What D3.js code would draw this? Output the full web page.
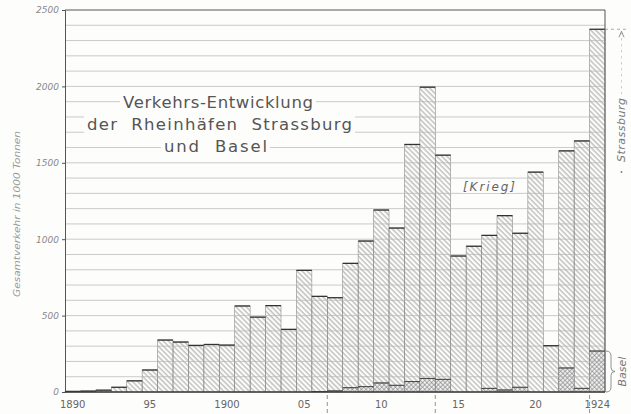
<!DOCTYPE html>
<html>
<head>
<meta charset="utf-8">
<script src="https://cdn.jsdelivr.net/npm/d3@7"></script>
<style>
  html, body { margin: 0; padding: 0; background: #fdfdfc; }
  svg { display: block; }
  text { font-family: "DejaVu Sans", sans-serif; }
</style>
</head>
<body>
<svg id="chart" width="631" height="414"></svg>
<script>
// Data: Gesamtverkehr (1000 t), Anteil Basel
const years = [1890, 1891, 1892, 1893, 1894, 1895, 1896, 1897, 1898, 1899,
               1900, 1901, 1902, 1903, 1904, 1905, 1906, 1907, 1908, 1909,
               1910, 1911, 1912, 1913, 1914, 1915, 1916, 1917, 1918, 1919,
               1920, 1921, 1922, 1923, 1924];
const gesamt = [4, 6, 12, 31, 73, 144, 340, 327, 305, 311,
                307, 563, 490, 565, 410, 796, 626, 617, 842, 988,
                1191, 1073, 1620, 1995, 1550, 890, 954, 1025, 1154, 1039,
                1439, 303, 1578, 1643, 2374];
const basel = [0, 0, 0, 0, 0, 0, 0, 0, 0, 0,
               0, 0, 0, 0, 0, 0, 3, 7, 28, 35,
               59, 44, 68, 89, 83, 0, 0, 24, 13, 31,
               0, 0, 157, 24, 268];
const yTicks = [0, 500, 1000, 1500, 2000, 2500];
const xLabels = [
  { year: 1890, text: "1890" }, { year: 1895, text: "95" },
  { year: 1900, text: "1900" }, { year: 1905, text: "05" },
  { year: 1910, text: "10" },   { year: 1915, text: "15" },
  { year: 1920, text: "20" },   { year: 1924, text: "1924" }
];
const markYears = [1907, 1914, 1924]; // gestrichelte Marken unter der Achse
const titleLines = ["Verkehrs-Entwicklung", "der  Rheinhäfen  Strassburg", "und  Basel"];

const svg = d3.select("#chart");
const margin = { top: 10, right: 26, bottom: 22, left: 65 };
const width = 631, height = 414;
const innerW = width - margin.left - margin.right;
const innerH = height - margin.top - margin.bottom;

const x = d3.scaleBand().domain(years).range([0, innerW]).padding(0);
const y = d3.scaleLinear().domain([0, 2500]).range([innerH, 0]);

// patterns
const defs = svg.append("defs");
defs.append("pattern")
  .attr("id", "hatch").attr("patternUnits", "userSpaceOnUse")
  .attr("width", 3.6).attr("height", 3.6)
  .attr("patternTransform", "rotate(-45)")
  .append("line").attr("x1", 1).attr("y1", 0).attr("x2", 1).attr("y2", 3.6)
  .attr("stroke", "#7e7e7e").attr("stroke-width", 0.7);
const ch = defs.append("pattern")
  .attr("id", "cross").attr("patternUnits", "userSpaceOnUse")
  .attr("width", 3.2).attr("height", 3.2)
  .attr("patternTransform", "rotate(45)");
ch.append("rect").attr("width", 3.2).attr("height", 3.2).attr("fill", "#f2f2f2");
ch.append("line").attr("x1", 1).attr("y1", 0).attr("x2", 1).attr("y2", 3.2)
  .attr("stroke", "#7a7a7a").attr("stroke-width", 0.6);
ch.append("line").attr("x1", 0).attr("y1", 1).attr("x2", 3.2).attr("y2", 1)
  .attr("stroke", "#7a7a7a").attr("stroke-width", 0.6);

const g = svg.append("g").attr("transform", `translate(${margin.left},${margin.top})`);
const data = years.map((yr, i) => ({ year: yr, total: gesamt[i], basel: basel[i] }));

// Strassburg (schraffiert) from basel to total
g.append("g").selectAll("rect")
  .data(data).join("rect")
  .attr("x", d => x(d.year)).attr("width", x.bandwidth())
  .attr("y", d => y(d.total)).attr("height", d => y(d.basel) - y(d.total))
  .attr("fill", "url(#hatch)")
  .attr("stroke", "#8a8a8a").attr("stroke-width", 0.6);

// Basel (kreuzschraffiert)
g.append("g").selectAll("rect")
  .data(data.filter(d => d.basel > 0)).join("rect")
  .attr("x", d => x(d.year)).attr("width", x.bandwidth())
  .attr("y", d => y(d.basel)).attr("height", d => y(0) - y(d.basel))
  .attr("fill", "url(#cross)")
  .attr("stroke", "#777").attr("stroke-width", 0.6);

// gridlines every 100
const gridVals = d3.range(100, 2500, 100);
g.append("g").selectAll("line")
  .data(gridVals).join("line")
  .attr("x1", 0).attr("x2", innerW)
  .attr("y1", d => y(d)).attr("y2", d => y(d))
  .attr("stroke", "#b4b4b4").attr("stroke-width", 0.7);

// bar tops
g.append("g").selectAll("line.top")
  .data(data).join("line")
  .attr("x1", d => x(d.year)).attr("x2", d => x(d.year) + x.bandwidth())
  .attr("y1", d => y(d.total)).attr("y2", d => y(d.total))
  .attr("stroke", "#333").attr("stroke-width", 1.3);
g.append("g").selectAll("line.btop")
  .data(data.filter(d => d.basel > 0)).join("line")
  .attr("x1", d => x(d.year)).attr("x2", d => x(d.year) + x.bandwidth())
  .attr("y1", d => y(d.basel)).attr("y2", d => y(d.basel))
  .attr("stroke", "#444").attr("stroke-width", 1);

// frame
g.append("line").attr("x1", 0).attr("x2", innerW).attr("y1", 0).attr("y2", 0)
  .attr("stroke", "#555").attr("stroke-width", 1);
g.append("line").attr("x1", innerW).attr("x2", innerW).attr("y1", 0).attr("y2", innerH)
  .attr("stroke", "#555").attr("stroke-width", 1);

// Y axis
const gy = g.append("g")
  .call(d3.axisLeft(y).tickValues(yTicks).tickSize(3).tickFormat(d3.format("d")));
gy.select(".domain").attr("stroke", "#555");
gy.selectAll(".tick line").attr("stroke", "#555");
gy.selectAll("text")
  .attr("font-size", 9).attr("font-style", "italic").attr("fill", "#888")
  .attr("x", -6);

// X axis
g.append("line").attr("x1", 0).attr("x2", innerW).attr("y1", innerH).attr("y2", innerH)
  .attr("stroke", "#3a3a3a").attr("stroke-width", 1.3);
g.append("g").selectAll("text")
  .data(xLabels).join("text")
  .attr("x", d => x(d.year) + x.bandwidth() / 2)
  .attr("y", innerH + 16)
  .attr("text-anchor", "middle").attr("font-size", 10).attr("fill", "#666")
  .text(d => d.text);
g.append("g").selectAll("line")
  .data(markYears).join("line")
  .attr("x1", d => x(d)).attr("x2", d => x(d))
  .attr("y1", innerH + 3).attr("y2", innerH + 22)
  .attr("stroke", "#777").attr("stroke-width", 0.8).attr("stroke-dasharray", "4,3");

// Y title
svg.append("text")
  .attr("transform", "translate(20,214) rotate(-90)")
  .attr("text-anchor", "middle").attr("font-size", 9).attr("font-style", "italic")
  .attr("fill", "#999").attr("textLength", 166).attr("lengthAdjust", "spacingAndGlyphs")
  .text("Gesamtverkehr in 1000 Tonnen");

// Title block with white background
const titlePos = [
  { x: 123, y: 108, w: 190 },
  { x: 87,  y: 130, w: 265 },
  { x: 164, y: 152, w: 103 }
];
const tg = svg.append("g");
titleLines.forEach((t, i) => {
  const p = titlePos[i];
  tg.append("rect").attr("x", p.x - 3).attr("y", p.y - 15)
    .attr("width", p.w + 6).attr("height", 20).attr("fill", "#fdfdfc");
});
titleLines.forEach((t, i) => {
  const p = titlePos[i];
  tg.append("text")
    .attr("x", p.x).attr("y", p.y)
    .attr("font-size", 16.5).attr("fill", "#555")
    .attr("textLength", p.w).attr("lengthAdjust", "spacing")
    .style("white-space", "pre")
    .text(t);
});

// Krieg
svg.append("rect").attr("x", 461).attr("y", 179).attr("width", 56).attr("height", 14).attr("fill", "#fdfdfc");
svg.append("text").attr("x", 463).attr("y", 191)
  .attr("font-size", 12).attr("font-style", "italic").attr("fill", "#666")
  .attr("textLength", 52).attr("lengthAdjust", "spacing")
  .text("[Krieg]");

// Strassburg annotation
const xr = margin.left + innerW;
const yTop = margin.top + y(gesamt[gesamt.length - 1]);
svg.append("line").attr("x1", xr).attr("x2", 629).attr("y1", yTop).attr("y2", yTop)
  .attr("stroke", "#888").attr("stroke-width", 0.7).attr("stroke-dasharray", "3,3");
svg.append("path")
  .attr("d", `M619,${yTop + 8} L621.5,${yTop + 2} L624,${yTop + 8}`)
  .attr("fill", "none").attr("stroke", "#777").attr("stroke-width", 0.8);
svg.append("line").attr("x1", 621.5).attr("x2", 621.5).attr("y1", yTop + 3).attr("y2", 94)
  .attr("stroke", "#aaa").attr("stroke-width", 0.7).attr("stroke-dasharray", "2,4");
svg.append("text")
  .attr("transform", "translate(625,130) rotate(-90)")
  .attr("text-anchor", "middle").attr("font-size", 11).attr("font-style", "italic")
  .attr("fill", "#777").attr("textLength", 64).attr("lengthAdjust", "spacing")
  .text("Strassburg");
svg.append("circle").attr("cx", 621.5).attr("cy", 172).attr("r", 0.9).attr("fill", "#777");

// Basel brace
const bTop = margin.top + y(basel[basel.length - 1]);
const bBot = margin.top + y(0);
const bMid = (bTop + bBot) / 2;
svg.append("path")
  .attr("d", `M${xr + 1},${bTop} Q${xr + 6},${bTop} ${xr + 6},${bTop + 5} L${xr + 6},${bMid - 4}
              Q${xr + 6},${bMid} ${xr + 10},${bMid} Q${xr + 6},${bMid} ${xr + 6},${bMid + 4}
              L${xr + 6},${bBot - 5} Q${xr + 6},${bBot} ${xr + 1},${bBot}`)
  .attr("fill", "none").attr("stroke", "#777").attr("stroke-width", 0.8);
svg.append("text")
  .attr("transform", `translate(626,${bMid}) rotate(-90)`)
  .attr("text-anchor", "middle").attr("font-size", 11).attr("font-style", "italic")
  .attr("fill", "#777")
  .text("Basel");
</script>
</body>
</html>
